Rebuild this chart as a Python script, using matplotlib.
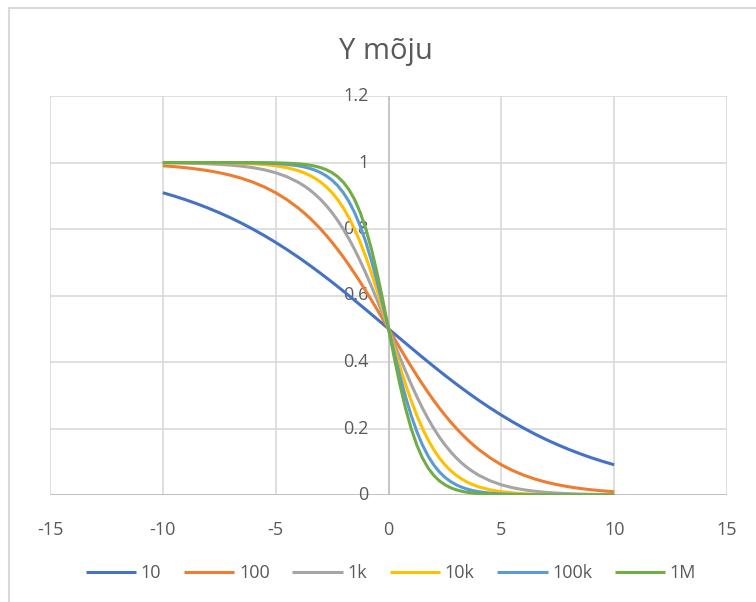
import matplotlib
matplotlib.use("Agg")
import matplotlib.pyplot as plt
import matplotlib.transforms as mtransforms
from matplotlib.patches import Rectangle

plt.rcParams['font.family'] = ['Open Sans', 'DejaVu Sans']

# x positions of the plotted points
x = [-10, -9.5, -9, -8.5, -8, -7.5, -7, -6.5, -6, -5.5, -5, -4.5,
     -4, -3.75, -3.5, -3.25, -3, -2.75, -2.5, -2.25, -2, -1.75, -1.5, -1.25, -1, -0.75, -0.5, -0.25,
     0,
     0.25, 0.5, 0.75, 1, 1.25, 1.5, 1.75, 2, 2.25, 2.5, 2.75, 3, 3.25, 3.5, 3.75, 4,
     4.5, 5, 5.5, 6, 6.5, 7, 7.5, 8, 8.5, 9, 9.5, 10]

y_10 = [0.9091, 0.8991, 0.8882, 0.8762, 0.8632, 0.8490, 0.8337, 0.8171, 0.7992, 0.7801, 0.7597, 0.7381,
        0.7153, 0.7034, 0.6912, 0.6788, 0.6661, 0.6532, 0.6401, 0.6267, 0.6131, 0.5994, 0.5855, 0.5714,
        0.5573, 0.5431, 0.5288, 0.5144,
        0.5,
        0.4856, 0.4712, 0.4569, 0.4427, 0.4286, 0.4145, 0.4006, 0.3869, 0.3733, 0.3599, 0.3468, 0.3339,
        0.3212, 0.3088, 0.2966, 0.2847,
        0.2619, 0.2403, 0.2199, 0.2008, 0.1829, 0.1663, 0.1510, 0.1368, 0.1238, 0.1118, 0.1009, 0.0909]
y_100 = [0.9901, 0.9876, 0.9844, 0.9804, 0.9755, 0.9693, 0.9617, 0.9523, 0.9406, 0.9264, 0.9091, 0.8882,
         0.8632, 0.8490, 0.8337, 0.8171, 0.7992, 0.7801, 0.7597, 0.7381, 0.7153, 0.6912, 0.6661, 0.6401,
         0.6131, 0.5855, 0.5573, 0.5288,
         0.5,
         0.4712, 0.4427, 0.4145, 0.3869, 0.3599, 0.3339, 0.3088, 0.2847, 0.2619, 0.2403, 0.2199, 0.2008,
         0.1829, 0.1663, 0.1510, 0.1368,
         0.1118, 0.0909, 0.0736, 0.0594, 0.0477, 0.0383, 0.0307, 0.0245, 0.0196, 0.0156, 0.0124, 0.0099]
y_1k = [0.9990, 0.9986, 0.9980, 0.9972, 0.9960, 0.9944, 0.9921, 0.9889, 0.9844, 0.9781, 0.9693, 0.9572,
        0.9406, 0.9302, 0.9182, 0.9042, 0.8882, 0.8698, 0.8490, 0.8255, 0.7992, 0.7701, 0.7381, 0.7034,
        0.6661, 0.6267, 0.5855, 0.5431,
        0.5,
        0.4569, 0.4145, 0.3733, 0.3339, 0.2966, 0.2619, 0.2299, 0.2008, 0.1745, 0.1510, 0.1302, 0.1118,
        0.0958, 0.0818, 0.0698, 0.0594,
        0.0428, 0.0307, 0.0219, 0.0156, 0.0111, 0.0079, 0.0056, 0.0040, 0.0028, 0.0020, 0.0014, 0.0010]
y_10k = [0.9999, 0.9998, 0.9997, 0.9996, 0.9994, 0.9990, 0.9984, 0.9975, 0.9960, 0.9937, 0.9901, 0.9844,
         0.9755, 0.9693, 0.9617, 0.9523, 0.9406, 0.9264, 0.9091, 0.8882, 0.8632, 0.8337, 0.7992, 0.7597,
         0.7153, 0.6661, 0.6131, 0.5573,
         0.5,
         0.4427, 0.3869, 0.3339, 0.2847, 0.2403, 0.2008, 0.1663, 0.1368, 0.1118, 0.0909, 0.0736, 0.0594,
         0.0477, 0.0383, 0.0307, 0.0245,
         0.0156, 0.0099, 0.0063, 0.0040, 0.0025, 0.0016, 0.0010, 0.0006, 0.0004, 0.0003, 0.0002, 0.0001]
y_100k = [1.0, 1.0, 1.0, 0.9999, 0.9999, 0.9998, 0.9997, 0.9994, 0.9990, 0.9982, 0.9968, 0.9944,
          0.9901, 0.9868, 0.9825, 0.9768, 0.9693, 0.9595, 0.9468, 0.9302, 0.9091, 0.8823, 0.8490, 0.8083,
          0.7597, 0.7034, 0.6401, 0.5714,
          0.5,
          0.4286, 0.3599, 0.2966, 0.2403, 0.1917, 0.1510, 0.1177, 0.0909, 0.0698, 0.0532, 0.0405, 0.0307,
          0.0232, 0.0175, 0.0132, 0.0099,
          0.0056, 0.0032, 0.0018, 0.0010, 0.0006, 0.0003, 0.0002, 0.0001, 0.0001, 0.0, 0.0, 0.0]
y_1M = [1.0, 1.0, 1.0, 1.0, 1.0, 1.0, 0.9999, 0.9999, 0.9997, 0.9995, 0.9990, 0.9980,
        0.9960, 0.9944, 0.9921, 0.9889, 0.9844, 0.9781, 0.9693, 0.9572, 0.9406, 0.9182, 0.8882, 0.8490,
        0.7992, 0.7381, 0.6661, 0.5855,
        0.5,
        0.4145, 0.3339, 0.2619, 0.2008, 0.1510, 0.1118, 0.0818, 0.0594, 0.0428, 0.0307, 0.0219, 0.0156,
        0.0111, 0.0079, 0.0056, 0.0040,
        0.0020, 0.0010, 0.0005, 0.0003, 0.0001, 0.0001, 0.0, 0.0, 0.0, 0.0, 0.0, 0.0]

series = [y_10, y_100, y_1k, y_10k, y_100k, y_1M]
names = ['10', '100', '1k', '10k', '100k', '1M']
colors = ['#4472C4', '#ED7D31', '#A5A5A5', '#FFC000', '#5B9BD5', '#70AD47']

x_ticks = [-15, -10, -5, 0, 5, 10, 15]
y_ticks = [0, 0.2, 0.4, 0.6, 0.8, 1, 1.2]
y_labels = ['0', '0.2', '0.4', '0.6', '0.8', '1', '1.2']

txt = '#595959'
grid = '#d9d9d9'
fs = 13

fig = plt.figure(figsize=(7.56, 6.02), dpi=100)
ax = fig.add_axes([50 / 756, 1 - 495 / 602, 677 / 756, 399 / 602])

# chart border (only top/left visible in the crop)
fig.patches.append(Rectangle((9 / 756, -0.1), 1.5, 1.1 - 8 / 602, transform=fig.transFigure,
                             fill=False, edgecolor=grid, lw=1.5))

ax.set_xlim(-15, 15)
ax.set_ylim(0, 1.2)
ax.set_xticks(x_ticks)
ax.set_yticks(y_ticks)
ax.grid(True, color=grid, lw=1.2, zorder=0)
ax.set_axisbelow(True)
for s in ax.spines.values():
    s.set_visible(False)
ax.axhline(0, color='#bfbfbf', lw=1.3, zorder=1)
ax.axvline(0, color='#c4c4c4', lw=1.3, zorder=1)
ax.tick_params(length=0, labelsize=fs, colors=txt, pad=19)
ax.set_yticklabels([])
ax.set_xticklabels([str(t) for t in x_ticks])

# value labels sit next to the vertical axis at x=0
off = mtransforms.offset_copy(ax.transData, fig=fig, x=-20, y=0, units='dots')
for v, lab in zip(y_ticks, y_labels):
    ax.text(0, v, lab, transform=off, ha='right', va='center', fontsize=fs, color=txt, zorder=2)

for ys, n, c in zip(series, names, colors):
    ax.plot(x, ys, color=c, lw=2.2, label=n, zorder=3, solid_capstyle='butt')

fig.text(386 / 756, 1 - 51 / 602, 'Y mõju', ha='center', va='center', fontsize=21, color=txt)

leg = fig.legend(loc='center', bbox_to_anchor=(391 / 756, 1 - 573 / 602), ncol=6, frameon=False,
                 fontsize=fs, handlelength=2.8, handletextpad=0.25, columnspacing=1.25)
for t in leg.get_texts():
    t.set_color(txt)

fig.savefig('out.png', dpi=100)
